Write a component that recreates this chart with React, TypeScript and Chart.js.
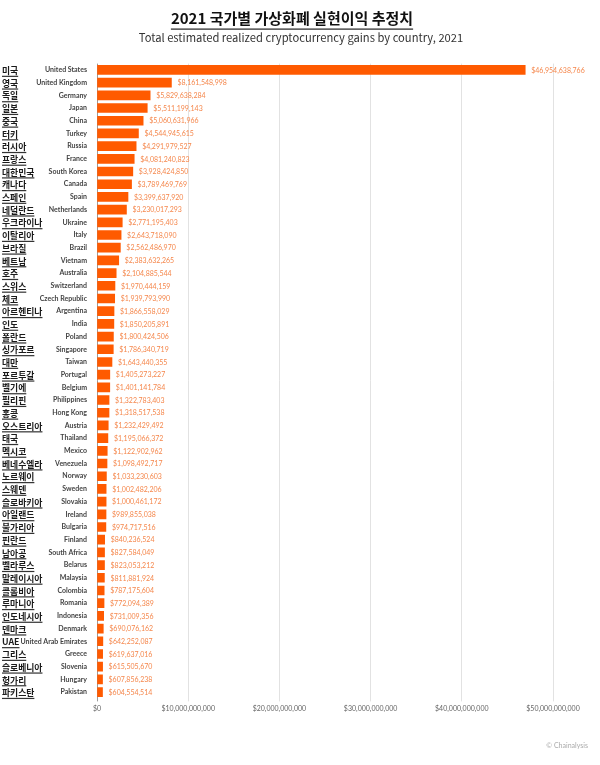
import React, { useEffect, useRef } from "react";
import { Chart, registerables } from "chart.js";

Chart.register(...registerables);

const countriesEn = [
  "United States", "United Kingdom", "Germany", "Japan", "China", "Turkey", "Russia", "France",
  "South Korea", "Canada", "Spain", "Netherlands", "Ukraine", "Italy", "Brazil", "Vietnam",
  "Australia", "Switzerland", "Czech Republic", "Argentina", "India", "Poland", "Singapore", "Taiwan",
  "Portugal", "Belgium", "Philippines", "Hong Kong", "Austria", "Thailand", "Mexico", "Venezuela",
  "Norway", "Sweden", "Slovakia", "Ireland", "Bulgaria", "Finland", "South Africa", "Belarus",
  "Malaysia", "Colombia", "Romania", "Indonesia", "Denmark", "United Arab Emirates", "Greece",
  "Slovenia", "Hungary", "Pakistan",
];

const countriesKo = [
  "미국", "영국", "독일", "일본", "중국", "터키", "러시아", "프랑스",
  "대한민국", "캐나다", "스페인", "네덜란드", "우크라이나", "이탈리아", "브라질", "베트남",
  "호주", "스위스", "체코", "아르헨티나", "인도", "폴란드", "싱가포르", "대만",
  "포르투갈", "벨기에", "필리핀", "홍콩", "오스트리아", "태국", "멕시코", "베네수엘라",
  "노르웨이", "스웨덴", "슬로바키아", "아일랜드", "불가리아", "핀란드", "남아공", "벨라루스",
  "말레이시아", "콜롬비아", "루마니아", "인도네시아", "덴마크", "UAE", "그리스",
  "슬로베니아", "헝가리", "파키스탄",
];

const gains = [
  46954638766, 8161548998, 5829638284, 5511199143, 5060631966, 4544945615, 4291979527, 4081240823,
  3928424850, 3789469769, 3399637920, 3230017293, 2771195403, 2643718090, 2562486970, 2383632265,
  2104885544, 1970444159, 1939793990, 1866558029, 1850205891, 1800424506, 1786340719, 1643440355,
  1405273227, 1401141784, 1322783403, 1318517538, 1232429492, 1195066372, 1122902962, 1098492717,
  1033230603, 1002482206, 1000461172, 989855038, 974717516, 840236524, 827584049, 823053212,
  811881924, 787175604, 772094389, 731009356, 690076162, 642252087, 619637016,
  615505670, 607856238, 604554514,
];

const xTicks = [0, 10000000000, 20000000000, 30000000000, 40000000000, 50000000000];

const titleText = "2021 국가별 가상화폐 실현이익 추정치";
const subtitleText = "Total estimated realized cryptocurrency gains by country, 2021";
const sourceText = "© Chainalysis";

const fmt = (v: number) => "$" + Math.round(v).toString().replace(/\B(?=(\d{3})+(?!\d))/g, ",");

const LATIN = "Lato, 'Noto Sans', sans-serif";
const KR = "'Noto Sans CJK KR', 'Noto Sans', sans-serif";

const decorPlugin = {
  id: "decor",
  afterDatasetsDraw(chart: any) {
    const ctx = chart.ctx;
    const meta = chart.getDatasetMeta(0);
    ctx.save();
    ctx.font = `7px ${LATIN}`;
    ctx.fillStyle = "#f5874c";
    ctx.textAlign = "left";
    ctx.textBaseline = "middle";
    meta.data.forEach((el: any, i: number) => {
      ctx.fillText(fmt(gains[i]), el.x + 6, el.y + 0.5);
    });
    ctx.restore();
  },
  afterDraw(chart: any) {
    const ctx = chart.ctx;
    const yScale = chart.scales.y;
    ctx.save();
    // Korean labels
    ctx.font = `bold 8.8px ${KR}`;
    ctx.textAlign = "left";
    ctx.textBaseline = "middle";
    countriesKo.forEach((lab, i) => {
      const y = yScale.getPixelForValue(i) + 0.8;
      ctx.fillStyle = "#1a1a1a";
      ctx.fillText(lab, 2, y);
      const w = ctx.measureText(lab).width;
      ctx.fillStyle = "#333";
      ctx.fillRect(2, y + 5, w, 1.2);
    });
    // Title
    ctx.font = `bold 15px ${KR}`;
    ctx.fillStyle = "#111";
    ctx.textAlign = "center";
    ctx.textBaseline = "middle";
    ctx.fillText(titleText, 292, 18);
    const tw = ctx.measureText(titleText).width;
    ctx.fillStyle = "#222";
    ctx.fillRect(292 - tw / 2, 28.5, tw, 1.2);
    // Subtitle
    ctx.font = `11.2px ${KR}`;
    ctx.fillStyle = "#333";
    ctx.fillText(subtitleText, 301, 38);
    // Source
    ctx.font = `7px ${LATIN}`;
    ctx.fillStyle = "#aaa";
    ctx.textAlign = "right";
    ctx.fillText(sourceText, 588, 746);
    ctx.restore();
  },
};

export default function App() {
  const ref = useRef<HTMLCanvasElement | null>(null);
  useEffect(() => {
    if (!ref.current) return;
    const chart = new Chart(ref.current, {
      type: "bar",
      data: {
        labels: countriesEn,
        datasets: [
          {
            data: gains,
            backgroundColor: "#ff5a00",
            borderWidth: 0,
            barThickness: 9,
          },
        ],
      },
      options: {
        indexAxis: "y",
        animation: false,
        responsive: false,
        maintainAspectRatio: false,
        layout: { padding: { top: 63.6, bottom: 46.6, left: 0, right: 47 } },
        plugins: {
          legend: { display: false },
          tooltip: { enabled: false },
          title: { display: false },
        },
        scales: {
          x: {
            type: "linear",
            min: 0,
            max: 50000000000,
            afterBuildTicks: (s: any) => {
              s.ticks = xTicks.map((v) => ({ value: v }));
            },
            afterFit: (s: any) => {
              s.height = 20;
            },
            ticks: {
              callback: (v: any) => fmt(Number(v)),
              font: { size: 7, family: LATIN },
              color: "#666",
              maxRotation: 0,
              autoSkip: false,
              padding: 3,
            },
            grid: {
              color: (c: any) => (c.tick && c.tick.value === 0 ? "#9a9a9a" : "#e2e2e2"),
              lineWidth: 1,
              tickLength: 3,
            },
            border: { display: false },
          },
          y: {
            type: "category",
            afterFit: (s: any) => {
              s.width = 97;
            },
            ticks: {
              font: { size: 7, weight: "bold", family: LATIN },
              color: "#444",
              padding: 2,
              autoSkip: false,
            },
            grid: { display: false },
            border: { display: false },
          },
        },
      } as any,
      plugins: [decorPlugin],
    });
    return () => chart.destroy();
  }, []);
  return (
    <div style={{ position: "absolute", left: 0, top: 0, width: 600, height: 765, background: "#fff" }}>
      <canvas ref={ref} width={600} height={765} style={{ width: 600, height: 765, display: "block" }} />
    </div>
  );
}
